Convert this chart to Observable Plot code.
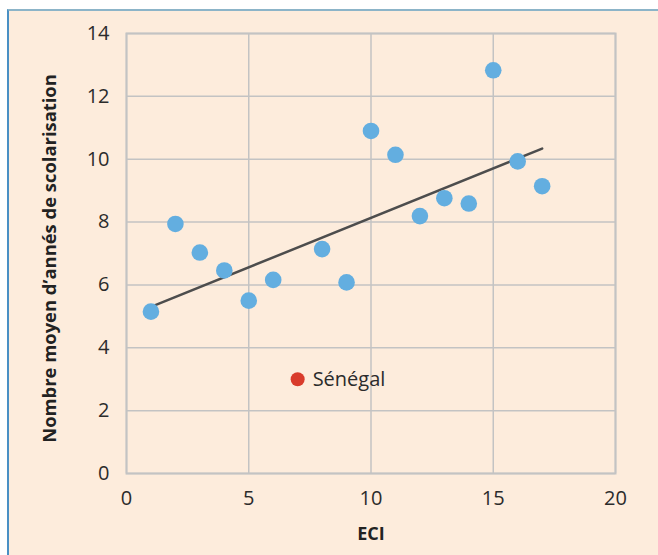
<!DOCTYPE html>
<html>
<head>
<meta charset="utf-8">
<script src="https://cdn.jsdelivr.net/npm/d3@7"></script>
<script src="https://cdn.jsdelivr.net/npm/@observablehq/plot@0.6"></script>
<style>
  html, body { margin: 0; padding: 0; background: #ffffff; }
  #frame {
    position: absolute; left: 7px; top: 9px; width: 660px; height: 560px;
    background: #fdecdc;
    border-top: 2px solid #8cb4c8;
    border-left: 2px solid #4a90c4;
  }
  #chart { position: absolute; left: 0; top: 0; }
</style>
</head>
<body>
<div id="frame"></div>
<div id="chart"></div>
<script>
const eci = [1, 2, 3, 4, 5, 6, 8, 9, 10, 11, 12, 13, 14, 15, 16, 17];
const years = [5.15, 7.94, 7.03, 6.46, 5.50, 6.16, 7.14, 6.08, 10.90, 10.14, 8.19, 8.76, 8.59, 12.83, 9.93, 9.14];
const senegalEci = 7;
const senegalYears = 3.0;
const senegalName = "Sénégal";
const xTicks = [0, 5, 10, 15, 20];
const yTicks = [0, 2, 4, 6, 8, 10, 12, 14];
const xTitle = "ECI";
const yTitle = "Nombre moyen d’annés de scolarisation";

const countries = eci.map((x, i) => ({x, y: years[i]}));
const senegal = [{x: senegalEci, y: senegalYears, name: senegalName}];
const all = countries.concat(senegal);

const font = "'Open Sans', sans-serif";
const grid = "#c3c3c3";

const chart = Plot.plot({
  width: 658,
  height: 555,
  marginLeft: 126,
  marginRight: 43,
  marginTop: 33,
  marginBottom: 82,
  style: {background: "transparent", fontFamily: font, fontSize: "20px", color: "#2b2b2b"},
  x: {domain: [0, 20], ticks: xTicks},
  y: {domain: [0, 14], ticks: yTicks},
  marks: [
    Plot.gridX(xTicks, {stroke: grid, strokeOpacity: 1, strokeWidth: 1.5}),
    Plot.gridY(yTicks, {stroke: grid, strokeOpacity: 1, strokeWidth: 1.5}),
    Plot.frame({stroke: grid, strokeWidth: 2}),
    Plot.axisX(xTicks, {tickSize: 0, tickPadding: 17, label: null, fontSize: 20, fill: "#2b2b2b"}),
    Plot.axisY(yTicks, {tickSize: 0, tickPadding: 17, label: null, fontSize: 20, fill: "#2b2b2b"}),
    Plot.linearRegressionY(all, {x: "x", y: "y", ci: 0, stroke: "#4d4d4d", strokeWidth: 2.5}),
    Plot.dot(countries, {x: "x", y: "y", r: 8.3, fill: "#63aee0", stroke: "none"}),
    Plot.dot(senegal, {x: "x", y: "y", r: 7, fill: "#d93b2b", stroke: "none"}),
    Plot.text(senegal, {x: "x", y: "y", text: "name", dx: 15, textAnchor: "start", fontSize: 20, fill: "#2b2b2b"}),
    Plot.text([xTitle], {frameAnchor: "bottom", dy: 66, fontWeight: "bold", fontSize: 18, fill: "#222"}),
    Plot.text([yTitle], {frameAnchor: "left", textAnchor: "middle", dx: -76, dy: 5, rotate: -90, fontWeight: "bold", fontSize: 18.4, fill: "#222"})
  ]
});
document.getElementById("chart").appendChild(chart);
</script>
</body>
</html>
